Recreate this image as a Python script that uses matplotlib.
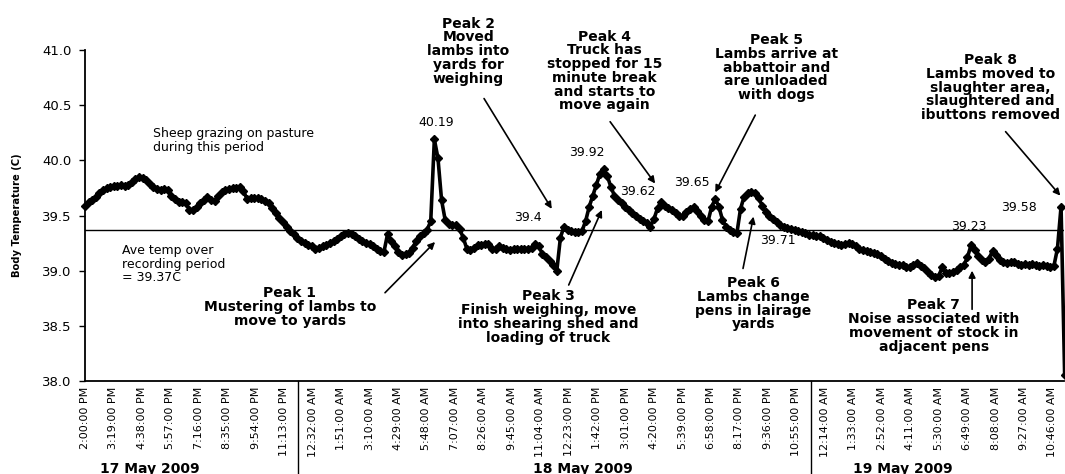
import numpy as np
import matplotlib
matplotlib.use('Agg')
import matplotlib.pyplot as plt
import matplotlib.transforms as mtransforms

# body temperature, one reading every 10 minutes from 2:00 PM on 17 May
temp = [
    39.59, 39.62, 39.64, 39.67, 39.70, 39.73, 39.75, 39.76, 39.77, 39.77,
    39.78, 39.77, 39.78, 39.80, 39.83, 39.85, 39.84, 39.82, 39.79, 39.76,
    39.74, 39.73, 39.74, 39.73, 39.68, 39.65, 39.62, 39.62, 39.61, 39.55,
    39.55, 39.58, 39.61, 39.64, 39.67, 39.64, 39.63, 39.68, 39.71, 39.73,
    39.74, 39.75, 39.75, 39.76, 39.72, 39.65, 39.66, 39.66, 39.66, 39.65,
    39.63, 39.61, 39.57, 39.52, 39.48, 39.44, 39.40, 39.36, 39.33, 39.30,
    39.27, 39.25, 39.23, 39.22, 39.20, 39.21, 39.22, 39.23, 39.25, 39.27,
    39.29, 39.31, 39.33, 39.34, 39.33, 39.31, 39.29, 39.27, 39.25, 39.24,
    39.22, 39.20, 39.18, 39.17, 39.33, 39.27, 39.22, 39.17, 39.14, 39.15,
    39.16, 39.21, 39.27, 39.31, 39.34, 39.37, 39.45, 40.19, 40.02, 39.64,
    39.46, 39.42, 39.41, 39.41, 39.38, 39.30, 39.20, 39.19, 39.21, 39.23,
    39.23, 39.24, 39.24, 39.20, 39.20, 39.22, 39.21, 39.20, 39.19, 39.20,
    39.20, 39.20, 39.20, 39.20, 39.21, 39.24, 39.22, 39.15, 39.12, 39.09,
    39.05, 39.00, 39.30, 39.40, 39.37, 39.36, 39.35, 39.35, 39.36, 39.45,
    39.58, 39.68, 39.78, 39.88, 39.92, 39.86, 39.76, 39.68, 39.64, 39.61,
    39.58, 39.55, 39.52, 39.50, 39.47, 39.45, 39.43, 39.40, 39.47, 39.57,
    39.62, 39.59, 39.57, 39.55, 39.52, 39.50, 39.50, 39.53, 39.56, 39.58,
    39.54, 39.50, 39.46, 39.45, 39.58, 39.65, 39.58, 39.46, 39.40, 39.37,
    39.35, 39.34, 39.56, 39.67, 39.70, 39.71, 39.70, 39.66, 39.59, 39.53,
    39.50, 39.47, 39.44, 39.41, 39.40, 39.39, 39.38, 39.37, 39.36, 39.35,
    39.34, 39.32, 39.32, 39.31, 39.31, 39.30, 39.28, 39.26, 39.25, 39.24,
    39.23, 39.24, 39.25, 39.24, 39.22, 39.20, 39.19, 39.18, 39.17, 39.16,
    39.15, 39.13, 39.11, 39.09, 39.07, 39.06, 39.05, 39.05, 39.03, 39.03,
    39.05, 39.07, 39.04, 39.02, 38.99, 38.96, 38.94, 38.95, 39.03, 38.98,
    38.98, 38.99, 39.01, 39.03, 39.05, 39.12, 39.23, 39.19, 39.13, 39.10,
    39.08, 39.11, 39.18, 39.14, 39.10, 39.08, 39.07, 39.08, 39.08, 39.06,
    39.05, 39.06, 39.05, 39.06, 39.05, 39.04, 39.05, 39.04, 39.03, 39.04,
    39.20, 39.58, 38.05,
]
minutes = np.arange(len(temp)) * 10

ave_temp = 39.37

tick_step = 79
tick_labels = [
    '2:00:00 PM', '3:19:00 PM', '4:38:00 PM', '5:57:00 PM', '7:16:00 PM',
    '8:35:00 PM', '9:54:00 PM', '11:13:00 PM', '12:32:00 AM', '1:51:00 AM',
    '3:10:00 AM', '4:29:00 AM', '5:48:00 AM', '7:07:00 AM', '8:26:00 AM',
    '9:45:00 AM', '11:04:00 AM', '12:23:00 PM', '1:42:00 PM', '3:01:00 PM',
    '4:20:00 PM', '5:39:00 PM', '6:58:00 PM', '8:17:00 PM', '9:36:00 PM',
    '10:55:00 PM', '12:14:00 AM', '1:33:00 AM', '2:52:00 AM', '4:11:00 AM',
    '5:30:00 AM', '6:49:00 AM', '8:08:00 AM', '9:27:00 AM', '10:46:00 AM',
]
days = ['17 May 2009', '18 May 2009', '19 May 2009']

fig = plt.figure(figsize=(10.65, 4.74), dpi=100)
ax = fig.add_axes([0.0798, 0.1962, 0.9192, 0.6983])

ax.plot(minutes, temp, color='black', lw=2.6, marker='D', ms=3.8,
        mfc='black', mec='black', clip_on=False, zorder=3)
ax.axhline(ave_temp, color='black', lw=1, zorder=2)

ax.set_xlim(0, 2718)
ax.set_ylim(38.0, 41.0)
ax.set_yticks(np.arange(38.0, 41.01, 0.5))
ax.yaxis.set_major_formatter(plt.FormatStrFormatter('%.1f'))
ticks = np.arange(len(tick_labels)) * tick_step
ax.set_xticks(ticks)
ax.set_xticklabels(tick_labels, rotation=90, fontsize=8)
ax.tick_params(axis='x', length=0, pad=4)
ax.tick_params(axis='y', length=4.3, width=1, pad=5.5, labelsize=9.5, direction='out')
for s in ['top', 'right']:
    ax.spines[s].set_visible(False)
for s in ['left', 'bottom']:
    ax.spines[s].set_linewidth(1.3)

ax.set_ylabel('Body Temperature (C)', fontsize=7.2, fontweight='bold')
ax.yaxis.set_label_coords(-0.064, 0.5)

# day separators between the last and first tick of each day
trans = mtransforms.blended_transform_factory(ax.transData, ax.transAxes)
for i in (7, 25):
    x = (ticks[i] + ticks[i + 1]) / 2
    ax.plot([x, x], [0, -0.3], color='black', lw=1, transform=trans, clip_on=False)
for name, x in zip(days, [181, 1381, 2272]):
    ax.text(x, -0.245, name, transform=trans, ha='center', va='top',
            fontsize=10, fontweight='bold')

# peak values
for i, (x, y) in zip([97, 144, 160, 175, 133, 185, 246, 271],
                     [(975, 40.34), (1394, 40.07), (1535, 39.72), (1685, 39.80),
                      (1231, 39.48), (1923, 39.27), (2454, 39.40), (2593, 39.57)]):
    ax.text(x, y, f'{temp[i]:g}', ha='center', va='center', fontsize=9)

ax.text(190, 40.18, 'Sheep grazing on pasture\nduring this period',
        ha='left', va='center', fontsize=9, linespacing=1.05)
ax.text(102, 39.06, f'Ave temp over\nrecording period\n= {ave_temp}C',
        ha='left', va='center', fontsize=9, linespacing=1.05)

notes = [
    ('Peak 1\nMustering of lambs to\nmove to yards', (569, 38.67), (833, 38.80), (972, 39.26)),
    ('Peak 2\nMoved\nlambs into\nyards for\nweighing', (1065, 40.99), (1108, 40.56), (1296, 39.56)),
    ('Peak 3\nFinish weighing, move\ninto shearing shed and\nloading of truck', (1287, 38.58), (1343, 38.87), (1435, 39.55)),
    ('Peak 4\nTruck has\nstopped for 15\nminute break\nand starts to\nmove again', (1442, 40.81), (1458, 40.35), (1583, 39.79)),
    ('Peak 5\nLambs arrive at\nabbattoir and\nare unloaded\nwith dogs', (1919, 40.84), (1861, 40.41), (1750, 39.71)),
    ('Peak 6\nLambs change\npens in lairage\nyards', (1856, 38.70), (1827, 39.02), (1856, 39.49)),
    ('Peak 7\nNoise associated with\nmovement of stock in\nadjacent pens', (2357, 38.50), (2463, 38.65), (2463, 39.00)),
    ('Peak 8\nLambs moved to\nslaughter area,\nslaughtered and\nibuttons removed', (2514, 40.66), (2556, 40.26), (2708, 39.68)),
]
for text, pos, tail, tip in notes:
    ax.text(pos[0], pos[1], text, ha='center', va='center', fontsize=10,
            fontweight='bold', linespacing=0.98)
    ax.annotate('', xy=tip, xytext=tail,
                arrowprops=dict(arrowstyle='-|>', color='black', lw=1.2,
                                mutation_scale=10, shrinkA=0, shrinkB=0))

fig.savefig('out.png', dpi=100)
